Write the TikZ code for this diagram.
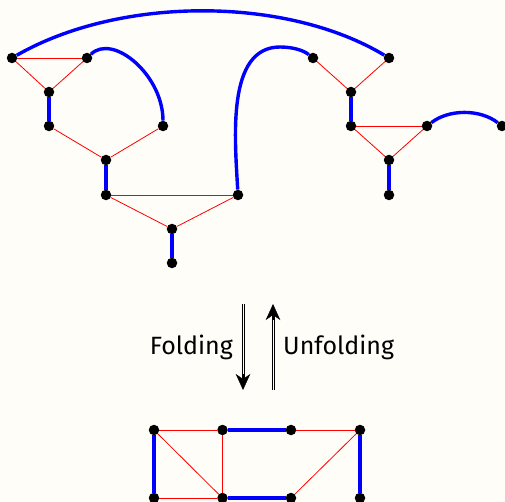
\documentclass[tikz,border=0pt]{standalone}
\usepackage{fontspec}
\setmainfont{Fira Sans}
\usetikzlibrary{arrows.meta}
\definecolor{paper}{HTML}{FFFDF8}
\tikzset{
  x=1pt,y=-1pt,
  dot/.style={circle,fill=black,inner sep=0pt,minimum size=10.5pt},
  redge/.style={draw=red,line width=0.8pt},
  bedge/.style={draw=blue,line width=3.4pt},
  shaft/.style={draw=black,line width=0.75pt},
  fold/.style={draw=black,line width=0.4pt,-{Stealth[length=16pt,width=14.5pt,inset=5pt,sep=0pt]}},
  lab/.style={font=\fontsize{25}{29}\selectfont,inner sep=0pt}
}
\begin{document}
\begin{tikzpicture}
\path[use as bounding box,fill=paper] (0,0) rectangle (505,502);
\foreach \n/\x/\y in {a/12/58,b/87/58,c/49/92,d/49/126,e/163/126,f/106/160,g/106/195,h/238/195,i/172/229,j/172/263,
 k/313/58,l/389/58,m/351/92,n/351/126,o/427/126,p/389/160,q/389/195,r/502/126,
 s/154/430,t/222.5/430,u/291/430,v/360/430,w/154/498,y/222.5/498,z/291/498,aa/360/498}
  \node[dot] (\n) at (\x,\y) {};
\foreach \p/\q in {a/b,a/c,b/c,d/f,e/f,g/h,g/i,h/i,k/m,l/m,n/o,n/p,o/p,s/t,s/y,t/y,w/y,u/v,v/z}
  \draw[redge] (\p) -- (\q);
\foreach \p/\q in {c/d,f/g,i/j,m/n,p/q,s/w,t/u,y/z,v/aa}
  \draw[bedge] (\p) -- (\q);
\draw[bedge] (a) .. controls (120,-4) and (286,-4) .. (l);
\draw[bedge] (b) .. controls (113,33) and (163,75) .. (e);
\draw[bedge] (h) .. controls (235,140) and (226,47) .. (280,47) .. controls (292,47) and (303,50) .. (k);
\draw[bedge] (o) .. controls (449,109) and (480,109) .. (r);
\coordinate (d1) at (243,304);
\coordinate (d2) at (243,390);
\coordinate (u1) at (273,390);
\coordinate (u2) at (273,304);
\draw[shaft] ([xshift=-1pt]d1) -- ([xshift=-1pt,yshift=6pt]d2);
\draw[shaft] ([xshift=1pt]d1) -- ([xshift=1pt,yshift=6pt]d2);
\draw[shaft] ([xshift=-1pt]u1) -- ([xshift=-1pt,yshift=-6pt]u2);
\draw[shaft] ([xshift=1pt]u1) -- ([xshift=1pt,yshift=-6pt]u2);
\draw[fold] ([yshift=16pt]d2) -- (d2);
\draw[fold] ([yshift=-16pt]u2) -- (u2);
\node[lab,anchor=base east] (fl) at (233,354) {Folding};
\node[lab,anchor=base west] (ufl) at (283,354) {Unfolding};
\end{tikzpicture}
\end{document}
